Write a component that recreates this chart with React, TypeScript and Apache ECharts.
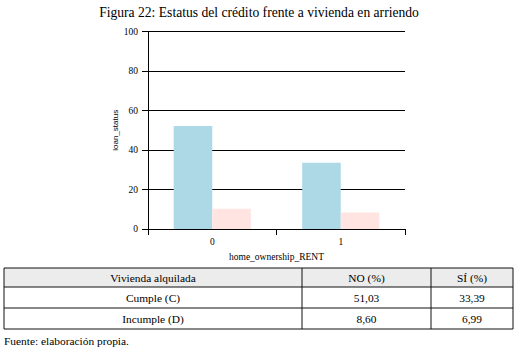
import React, { useEffect, useRef } from "react";
import * as echarts from "echarts";

const titleText = "Figura 22: Estatus del crédito frente a vivienda en arriendo";
const categories = ["0", "1"];
const cumpleValues = [52.2, 33.5];
const incumpleValues = [10.3, 8.3];
const xAxisName = "home_ownership_RENT";
const yAxisName = "loan_status";
const tableHeader = ["Vivienda alquilada", "NO (%)", "SÍ (%)"];
const tableRows = [
  ["Cumple (C)", "51,03", "33,39"],
  ["Incumple (D)", "8,60", "6,99"],
];
const footerText = "Fuente: elaboración propia.";

const SERIF = "Liberation Serif";

export default function App() {
  const ref = useRef<HTMLDivElement>(null);
  useEffect(() => {
    document.body.style.margin = "0";
    const chart = echarts.init(ref.current!, null, { renderer: "svg" });

    const colX = [4, 302, 431, 513];
    const rowY = [268, 287, 308, 329];
    const graphics: any[] = [];
    graphics.push({
      type: "text",
      x: 259,
      y: 12,
      style: {
        text: titleText,
        fontFamily: SERIF,
        fontSize: 13.6,
        fill: "#000",
        align: "center",
        verticalAlign: "middle",
      },
    });
    graphics.push({
      type: "rect",
      shape: { x: colX[0], y: rowY[0], width: colX[3] - colX[0], height: rowY[1] - rowY[0] },
      style: { fill: "#ececec" },
    });
    rowY.forEach((y) => {
      graphics.push({
        type: "line",
        shape: { x1: colX[0], y1: y, x2: colX[3], y2: y },
        style: { stroke: "#111", lineWidth: 1 },
      });
    });
    colX.forEach((x) => {
      graphics.push({
        type: "line",
        shape: { x1: x, y1: rowY[0], x2: x, y2: rowY[3] },
        style: { stroke: "#111", lineWidth: 1 },
      });
    });
    const allRows = [tableHeader, ...tableRows];
    allRows.forEach((row, ri) => {
      row.forEach((cell, ci) => {
        graphics.push({
          type: "text",
          x: (colX[ci] + colX[ci + 1]) / 2,
          y: (rowY[ri] + rowY[ri + 1]) / 2,
          style: {
            text: cell,
            fontFamily: SERIF,
            fontSize: 11.4,
            fill: "#000",
            align: "center",
            verticalAlign: "middle",
          },
        });
      });
    });
    graphics.push({
      type: "text",
      x: 4,
      y: 341,
      style: {
        text: footerText,
        fontFamily: SERIF,
        fontSize: 11.4,
        fill: "#000",
        align: "left",
        verticalAlign: "middle",
      },
    });

    chart.setOption({
      animation: false,
      backgroundColor: "#fff",
      grid: { left: 148, top: 31.5, width: 257, height: 197.5, containLabel: false },
      xAxis: {
        type: "category",
        data: categories,
        name: xAxisName,
        nameLocation: "middle",
        nameGap: 18,
        nameTextStyle: { fontFamily: SERIF, fontSize: 9.5, color: "#000", verticalAlign: "middle" },
        axisLine: { show: true, lineStyle: { color: "#000", width: 1 } },
        axisTick: { show: true, length: 6, lineStyle: { color: "#000" } },
        axisLabel: { fontFamily: SERIF, fontSize: 9.5, color: "#000", margin: 8 },
      },
      yAxis: {
        type: "value",
        min: 0,
        max: 100,
        interval: 20,
        name: yAxisName,
        nameLocation: "middle",
        nameGap: 29,
        nameTextStyle: { fontFamily: "Liberation Sans", fontSize: 8, color: "#000" },
        axisLine: { show: true, lineStyle: { color: "#000", width: 1 } },
        axisTick: { show: true, length: 6, lineStyle: { color: "#000" } },
        axisLabel: { fontFamily: SERIF, fontSize: 9.5, color: "#000", margin: 10 },
        splitLine: { show: true, lineStyle: { color: "#000", width: 1 } },
      },
      series: [
        {
          type: "bar",
          name: "Cumple",
          data: cumpleValues,
          barGap: "0%",
          barCategoryGap: "40%",
          itemStyle: { color: "#ADD8E6" },
        },
        {
          type: "bar",
          name: "Incumple",
          data: incumpleValues,
          barGap: "0%",
          barCategoryGap: "40%",
          itemStyle: { color: "#FFE4E1" },
        },
      ],
      graphic: graphics,
    });
    return () => chart.dispose();
  }, []);
  return (
    <div
      ref={ref}
      style={{ position: "fixed", left: 0, top: 0, width: 518, height: 352, background: "#fff" }}
    />
  );
}
